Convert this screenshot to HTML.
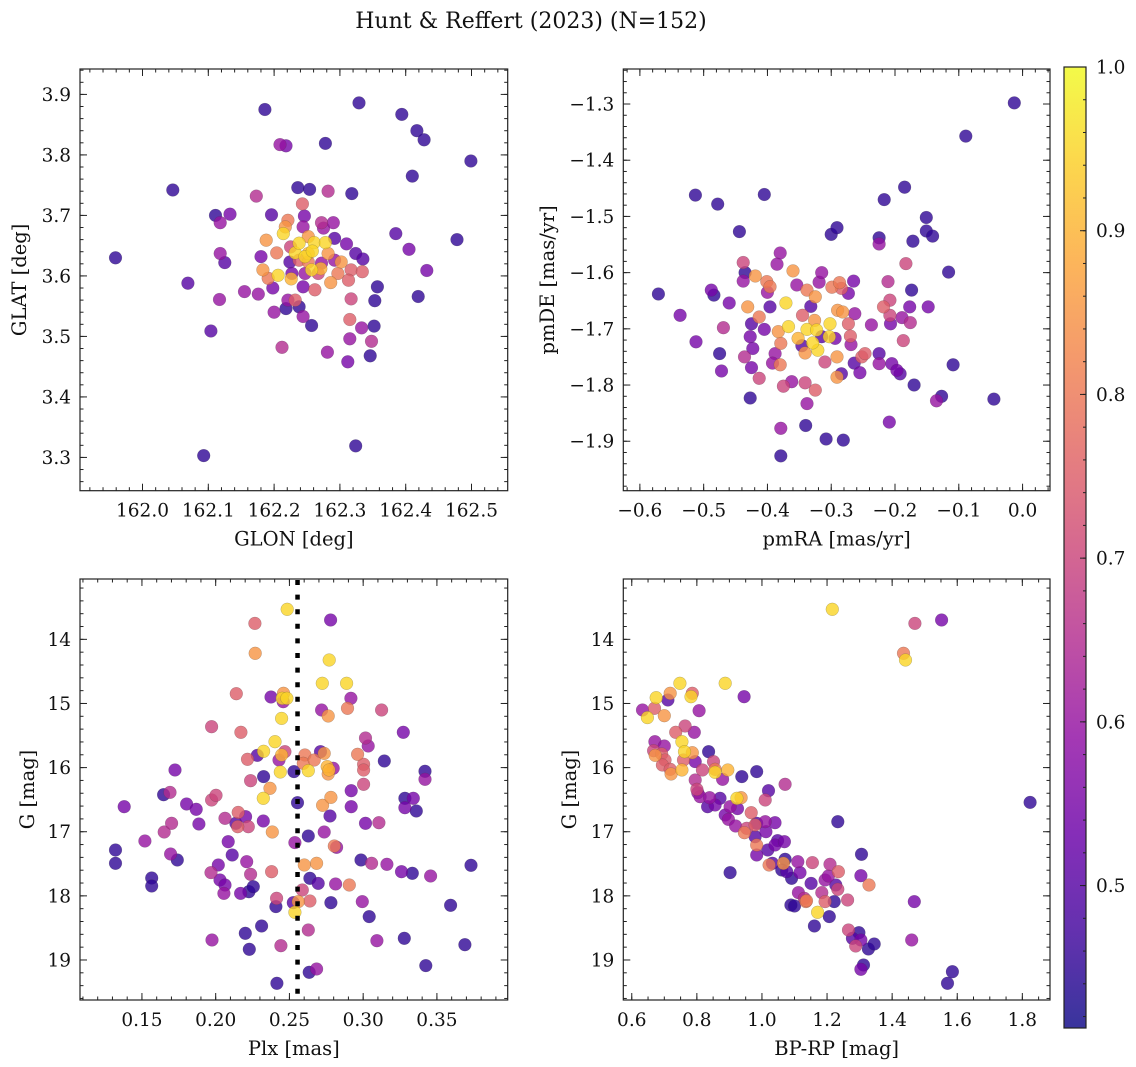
<!DOCTYPE html>
<html><head><meta charset="utf-8">
<style>
html,body{margin:0;padding:0;background:#fff;}
svg{display:block;font-family:"DejaVu Serif","Liberation Serif",serif;}
</style></head>
<body>
<svg id="fig" width="1136" height="1067" viewBox="0 0 1136 1067" xmlns="http://www.w3.org/2000/svg">
<text x="531" y="28" font-size="22" text-anchor="middle" fill="#111">Hunt &amp; Reffert (2023) (N=152)</text>
</svg>
<script>
// ---- Panel 1: GLON / GLAT ----
const p1Lon=[161.959,162.046,162.069,162.093,162.104,162.111,162.118,162.118,162.125,162.117,162.133,162.155,162.173,162.176,162.180,162.186,162.196,162.198,162.200,162.188,162.209,162.218,162.212,162.218,162.214,162.206,162.221,162.217,162.204,162.183,162.191,162.226,162.224,162.221,162.232,162.236,162.243,162.246,162.244,162.232,162.238,162.252,162.247,162.254,162.257,162.261,162.258,162.262,162.244,162.244,162.257,162.238,162.272,162.275,162.278,162.278,162.282,162.290,162.292,162.271,162.282,162.292,162.297,162.286,162.302,162.310,162.318,162.324,162.335,162.317,162.313,162.334,162.317,162.315,162.315,162.312,162.324,162.329,162.333,162.348,162.352,162.353,162.357,162.346,162.281,162.385,162.394,162.405,162.410,162.417,162.428,162.419,162.432,162.478,162.499,162.252,162.225,162.267,162.252,162.238,162.227,162.247,162.272];
const p1Lat=[3.630,3.742,3.588,3.303,3.509,3.700,3.688,3.637,3.622,3.561,3.702,3.574,3.732,3.570,3.632,3.875,3.701,3.580,3.540,3.659,3.817,3.815,3.482,3.546,3.670,3.601,3.692,3.681,3.638,3.610,3.596,3.595,3.623,3.560,3.560,3.746,3.719,3.699,3.681,3.638,3.654,3.665,3.632,3.743,3.610,3.655,3.641,3.577,3.582,3.533,3.518,3.549,3.688,3.679,3.819,3.655,3.740,3.688,3.662,3.612,3.637,3.626,3.604,3.589,3.623,3.653,3.736,3.637,3.628,3.610,3.593,3.607,3.562,3.528,3.496,3.458,3.319,3.886,3.514,3.492,3.517,3.559,3.582,3.468,3.474,3.670,3.867,3.644,3.765,3.840,3.825,3.566,3.609,3.660,3.790,3.637,3.648,3.604,3.623,3.626,3.604,3.604,3.621];
const p1Prob=[.45,.45,.5,.45,.5,.45,.6,.6,.5,.6,.55,.6,.65,.6,.55,.45,.5,.55,.6,.85,.6,.55,.65,.45,.95,.95,.8,.85,.8,.85,.8,.9,.5,.6,.75,.45,.75,.55,.6,.95,.95,.85,.95,.45,.95,.95,.95,.75,.55,.6,.45,.45,.65,.6,.45,.95,.65,.6,.5,.9,.85,.6,.8,.85,.85,.55,.45,.5,.5,.75,.75,.75,.7,.75,.6,.55,.45,.45,.6,.65,.45,.45,.45,.45,.6,.5,.45,.55,.45,.45,.45,.45,.55,.45,.45,.9,.7,.7,.8,.75,.55,.6,.6];
const p1XTicks=[162.0,162.1,162.2,162.3,162.4,162.5];
const p1XLabels=["162.0","162.1","162.2","162.3","162.4","162.5"];
const p1YTicks=[3.3,3.4,3.5,3.6,3.7,3.8,3.9];
const p1YLabels=["3.3","3.4","3.5","3.6","3.7","3.8","3.9"];

// ---- Panel 2: pmRA / pmDE ----
const p2PmRA=[-0.571,-0.537,-0.512,-0.513,-0.478,-0.488,-0.484,-0.460,-0.469,-0.475,-0.472,-0.444,-0.438,-0.435,-0.438,-0.431,-0.425,-0.427,-0.423,-0.436,-0.425,-0.413,-0.427,-0.419,-0.413,-0.405,-0.401,-0.396,-0.400,-0.396,-0.405,-0.388,-0.392,-0.383,-0.380,-0.379,-0.371,-0.380,-0.385,-0.375,-0.379,-0.379,-0.367,-0.362,-0.360,-0.354,-0.352,-0.346,-0.345,-0.341,-0.341,-0.338,-0.338,-0.332,-0.338,-0.340,-0.326,-0.325,-0.323,-0.321,-0.329,-0.325,-0.319,-0.315,-0.315,-0.310,-0.302,-0.303,-0.300,-0.291,-0.299,-0.291,-0.294,-0.290,-0.287,-0.284,-0.282,-0.284,-0.291,-0.281,-0.308,-0.273,-0.273,-0.270,-0.269,-0.265,-0.264,-0.263,-0.255,-0.252,-0.247,-0.237,-0.225,-0.225,-0.225,-0.225,-0.218,-0.217,-0.211,-0.208,-0.208,-0.207,-0.205,-0.197,-0.192,-0.189,-0.187,-0.183,-0.185,-0.177,-0.176,-0.174,-0.172,-0.170,-0.151,-0.151,-0.148,-0.141,-0.135,-0.127,-0.116,-0.109,-0.209,-0.089,-0.045,-0.013];
const p2PmDE=[-1.638,-1.676,-1.723,-1.462,-1.478,-1.631,-1.640,-1.654,-1.698,-1.744,-1.775,-1.527,-1.582,-1.600,-1.615,-1.661,-1.691,-1.714,-1.735,-1.750,-1.769,-1.788,-1.823,-1.606,-1.679,-1.461,-1.616,-1.625,-1.635,-1.661,-1.701,-1.744,-1.761,-1.705,-1.764,-1.726,-1.654,-1.565,-1.585,-1.802,-1.877,-1.926,-1.696,-1.794,-1.597,-1.622,-1.717,-1.730,-1.676,-1.796,-1.743,-1.701,-1.631,-1.660,-1.833,-1.872,-1.685,-1.643,-1.702,-1.738,-1.725,-1.809,-1.617,-1.600,-1.714,-1.759,-1.691,-1.714,-1.532,-1.520,-1.626,-1.750,-1.717,-1.667,-1.618,-1.628,-1.670,-1.780,-1.786,-1.898,-1.896,-1.637,-1.691,-1.713,-1.728,-1.615,-1.761,-1.673,-1.778,-1.750,-1.744,-1.693,-1.538,-1.549,-1.744,-1.762,-1.661,-1.470,-1.616,-1.649,-1.676,-1.691,-1.762,-1.774,-1.780,-1.680,-1.721,-1.584,-1.448,-1.661,-1.689,-1.631,-1.544,-1.800,-1.502,-1.526,-1.661,-1.535,-1.828,-1.820,-1.599,-1.764,-1.866,-1.357,-1.825,-1.298];
const p2Prob=[.45,.55,.55,.45,.45,.55,.45,.55,.65,.45,.55,.45,.7,.45,.6,.85,.5,.55,.55,.65,.55,.7,.45,.85,.8,.45,.8,.8,.6,.5,.55,.6,.6,.85,.8,.8,.95,.6,.6,.7,.6,.45,.95,.6,.85,.6,.9,.5,.75,.7,.85,.95,.8,.5,.6,.45,.85,.85,.95,.95,.95,.75,.6,.6,.5,.7,.95,.95,.45,.45,.8,.85,.55,.85,.8,.75,.85,.5,.85,.45,.45,.55,.75,.75,.6,.55,.5,.6,.55,.75,.75,.6,.45,.6,.5,.6,.75,.45,.65,.7,.7,.55,.55,.55,.5,.6,.7,.7,.45,.55,.65,.45,.45,.45,.45,.45,.55,.45,.6,.45,.45,.45,.55,.45,.45,.45];
const p2XTicks=[-0.6,-0.5,-0.4,-0.3,-0.2,-0.1,0.0];
const p2XLabels=["−0.6","−0.5","−0.4","−0.3","−0.2","−0.1","0.0"];
const p2YTicks=[-1.9,-1.8,-1.7,-1.6,-1.5,-1.4,-1.3];
const p2YLabels=["−1.9","−1.8","−1.7","−1.6","−1.5","−1.4","−1.3"];

// ---- Panel 3: Plx / G ----
const p3Plx=[.1321,.1321,.138,.152,.1566,.1566,.1647,.169,.1651,.1701,.1694,.174,.1724,.1803,.1868,.1886,.1972,.1972,.2002,.1968,.2018,.2029,.2063,.2056,.1975,.2063,.2085,.2112,.2137,.2149,.2153,.214,.2171,.2169,.2203,.221,.2216,.2221,.2237,.2237,.2225,.2255,.2201,.2228,.2266,.2268,.2282,.2311,.2323,.2325,.2325,.2323,.2368,.2384,.2379,.2375,.2402,.2408,.2413,.2415,.2429,.2438,.2447,.2447,.246,.2451,.2458,.2469,.2483,.2485,.2442,.2531,.2537,.2555,.2526,.2537,.256,.2587,.2601,.2605,.2594,.2628,.2628,.2628,.2639,.2639,.2634,.2684,.2668,.2684,.2695,.2711,.2723,.2718,.2725,.2736,.2736,.277,.2763,.2756,.2763,.2768,.2775,.2781,.2779,.2781,.2797,.2804,.282,.2813,.2888,.2894,.2906,.2917,.2919,.2919,.2962,.2985,.2994,.3003,.3003,.3003,.3016,.3034,.3016,.3041,.3057,.3093,.3107,.3125,.3143,.3161,.326,.3272,.3283,.3283,.3279,.3333,.334,.336,.3419,.3419,.3457,.3425,.3593,.369,.3731];
const p3G=[17.285,17.493,16.609,17.145,17.721,17.846,16.422,16.386,17.004,16.869,17.347,17.441,16.037,16.568,16.651,16.879,15.362,16.505,16.432,17.638,17.519,17.753,17.831,17.961,18.688,16.791,17.155,17.363,16.869,16.921,16.698,14.847,15.450,17.961,16.765,17.467,15.871,16.921,16.204,17.664,17.935,17.857,18.584,18.834,13.751,14.218,15.809,18.470,16.833,15.746,16.141,16.479,16.323,17.004,17.623,14.899,15.596,18.168,18.038,19.364,15.882,16.069,15.232,15.804,14.842,14.920,14.972,15.752,14.920,13.532,18.777,16.063,17.170,16.547,18.106,18.257,18.090,17.909,17.519,15.804,15.933,16.048,17.067,18.532,17.727,18.080,19.192,19.140,15.882,17.493,17.805,15.752,14.686,15.102,16.588,15.778,17.004,14.322,15.195,15.985,16.100,16.037,16.755,16.464,13.699,18.106,16.011,17.222,17.243,17.815,14.686,15.076,17.831,14.920,16.360,16.609,15.793,17.441,18.090,15.949,16.037,16.261,15.538,15.663,16.869,18.324,17.493,18.699,16.859,15.102,15.897,17.508,17.623,15.450,16.479,16.625,18.662,17.649,16.479,16.677,16.058,16.183,17.690,19.088,18.148,18.761,17.524];
const p3Prob=[.45,.45,.55,.6,.45,.45,.45,.65,.65,.65,.6,.45,.55,.55,.55,.55,.7,.7,.7,.65,.55,.55,.55,.6,.6,.65,.55,.5,.5,.75,.75,.75,.75,.55,.55,.6,.75,.7,.7,.65,.45,.45,.45,.45,.75,.85,.5,.45,.55,.95,.45,.95,.85,.85,.75,.55,.95,.45,.7,.45,.6,.95,.95,.9,.85,.95,.6,.7,.95,.95,.65,.45,.6,.45,.5,.95,.85,.7,.85,.8,.8,.95,.45,.65,.45,.75,.45,.6,.8,.85,.5,.5,.95,.6,.85,.85,.6,.95,.85,.9,.85,.9,.5,.85,.55,.45,.6,.8,.6,.6,.95,.8,.8,.6,.55,.55,.8,.45,.6,.75,.75,.7,.65,.6,.55,.45,.65,.6,.65,.7,.45,.6,.55,.55,.45,.55,.45,.45,.55,.45,.45,.6,.6,.45,.45,.45,.45];
const p3PlxMarker=[0.2555];
const p3XTicks=[0.15,0.20,0.25,0.30,0.35];
const p3XLabels=["0.15","0.20","0.25","0.30","0.35"];
const gYTicks=[14,15,16,17,18,19];
const gYLabels=["14","15","16","17","18","19"];

// ---- Panel 4: BP-RP / G ----
const p4BpRp=[.633,.648,.670,.675,.700,.711,.718,.748,.782,.786,.807,.887,.945,1.216,1.470,1.552,1.435,1.441,.671,.700,.735,.764,.792,.667,.672,.692,.702,.694,.718,.721,.754,.762,.759,.754,.786,.795,.817,.795,.800,.803,.836,.851,.856,.856,.895,.879,.938,.984,.810,.839,.833,.856,.871,.887,.902,.923,.936,.925,.897,.919,.946,.953,.967,.979,.984,1.010,1.020,1.071,1.010,1.040,1.012,.979,.984,.984,1.018,1.040,1.048,1.069,1.022,1.032,1.066,1.071,1.061,1.076,1.091,1.110,1.117,1.155,1.151,1.112,1.130,1.135,1.137,1.089,1.100,1.171,1.161,1.207,1.222,1.194,1.184,1.194,1.209,1.204,1.235,1.227,1.233,1.263,1.233,1.306,1.304,1.329,1.266,1.278,1.298,1.304,1.288,1.327,1.345,1.312,1.304,.902,1.468,1.460,1.585,1.570,1.824];
const p4G=[15.102,15.221,15.076,14.910,15.190,14.946,14.842,14.686,14.894,14.842,15.112,14.686,14.894,13.532,13.751,13.699,14.218,14.322,15.596,15.663,15.450,15.351,15.450,15.736,15.809,15.788,15.882,15.959,16.027,16.100,15.596,15.752,15.882,16.037,15.767,15.907,16.037,16.193,16.339,16.391,15.752,15.907,16.027,16.074,16.037,16.183,16.141,16.063,16.453,16.469,16.609,16.583,16.479,16.739,16.609,16.479,16.469,16.640,16.807,16.911,17.015,16.947,16.703,16.895,16.869,16.505,16.360,16.261,16.843,16.859,16.999,17.077,17.207,17.363,17.285,17.207,17.139,17.155,17.519,17.493,17.493,17.430,17.597,17.623,17.727,17.467,17.638,17.482,17.805,17.950,18.038,18.090,18.075,18.142,18.158,18.257,18.470,18.324,18.090,18.090,17.950,17.753,17.508,17.690,17.623,17.831,17.898,18.064,16.843,17.352,17.685,17.831,18.532,18.662,18.574,18.688,18.782,18.828,18.751,19.078,19.146,17.638,18.090,18.688,19.182,19.364,16.542];
const p4Prob=[.6,.95,.75,.95,.85,.5,.85,.95,.95,.75,.6,.95,.55,.95,.7,.55,.8,.95,.6,.6,.75,.7,.6,.7,.85,.75,.75,.75,.75,.85,.95,.95,.75,.9,.85,.55,.7,.65,.7,.6,.45,.7,.8,.95,.9,.6,.45,.45,.6,.6,.5,.55,.5,.55,.6,.95,.85,.55,.6,.6,.8,.7,.75,.75,.5,.7,.5,.65,.6,.55,.55,.5,.8,.55,.5,.55,.5,.55,.8,.5,.85,.45,.45,.5,.45,.6,.55,.7,.5,.6,.65,.8,.8,.45,.45,.95,.45,.45,.45,.75,.65,.6,.65,.6,.75,.5,.7,.7,.45,.45,.55,.8,.7,.5,.45,.55,.7,.45,.45,.45,.55,.45,.55,.6,.45,.45,.45];
const p4XTicks=[0.6,0.8,1.0,1.2,1.4,1.6,1.8];
const p4XLabels=["0.6","0.8","1.0","1.2","1.4","1.6","1.8"];

// ---- Colorbar ----
const cbTicks=[0.5,0.6,0.7,0.8,0.9,1.0];
const cbLabels=["0.5","0.6","0.7","0.8","0.9","1.0"];
const cbRange=[0.413,1.0];

const NS="http://www.w3.org/2000/svg";
const svg=document.getElementById('fig');
const plasma=[[13,8,135],[65,4,157],[106,0,168],[143,13,164],[177,42,144],[204,71,120],[225,100,98],[242,132,75],[252,166,54],[252,206,37],[240,249,33]];
function cmap(t){t=Math.max(0,Math.min(1,t));const f=t*10;const i=Math.min(9,Math.floor(f));const u=f-i;const a=plasma[i],b=plasma[i+1];return 'rgb('+Math.round(a[0]+(b[0]-a[0])*u)+','+Math.round(a[1]+(b[1]-a[1])*u)+','+Math.round(a[2]+(b[2]-a[2])*u)+')';}
function probColor(p){return cmap((p-cbRange[0])/(cbRange[1]-cbRange[0]));}
function mk(tag,attrs,parent){const e=document.createElementNS(NS,tag);for(const k in attrs)e.setAttribute(k,attrs[k]);(parent||svg).appendChild(e);return e;}

function panel(cfg){
  const g=mk('g',{});
  
  
  const sx=v=>cfg.x0+(v-cfg.xd[0])/(cfg.xd[1]-cfg.xd[0])*(cfg.x1-cfg.x0);
  const sy=v=>cfg.inv? cfg.y0+(v-cfg.yd[0])/(cfg.yd[1]-cfg.yd[0])*(cfg.y1-cfg.y0) : cfg.y1-(v-cfg.yd[0])/(cfg.yd[1]-cfg.yd[0])*(cfg.y1-cfg.y0);
  const idx=cfg.xs.map((_,i)=>i).sort((a,b)=>cfg.ps[a]-cfg.ps[b]);
  const pg=mk('g',{},g);
  
  
  idx.forEach(i=>{
    const c=mk('circle',{cx:sx(cfg.xs[i]).toFixed(1),cy:sy(cfg.ys[i]).toFixed(1),r:6.4,fill:probColor(cfg.ps[i]),'fill-opacity':0.8,stroke:'rgba(60,60,60,0.35)','stroke-width':0.5},pg);
    
    
  });
  if(cfg.vline){cfg.vline.forEach(v=>{
    const l=mk('line',{x1:sx(v),x2:sx(v),y1:cfg.y0+1,y2:cfg.y1,stroke:'#000','stroke-width':4.5,'stroke-dasharray':'5 9.6'},g);
    
    
  });}
  const fr=mk('rect',{x:cfg.x0,y:cfg.y0,width:cfg.x1-cfg.x0,height:cfg.y1-cfg.y0,fill:'none',stroke:'#222','stroke-width':1.2},g);
  
  
  const tk=mk('g',{stroke:'#222','stroke-width':1},g);
  
  
  function line(x1,y1,x2,y2){mk('line',{x1,y1,x2,y2},tk);}
  const xm0=Math.ceil(cfg.xd[0]/cfg.xminor-1e-6);
  for(let k=xm0;k*cfg.xminor<=cfg.xd[1]+1e-9;k++){const x=sx(k*cfg.xminor);line(x,cfg.y1,x,cfg.y1-3.5);line(x,cfg.y0,x,cfg.y0+3.5);}
  const ym0=Math.ceil(cfg.yd[0]/cfg.yminor-1e-6);
  for(let k=ym0;k*cfg.yminor<=cfg.yd[1]+1e-9;k++){const y=sy(k*cfg.yminor);line(cfg.x0,y,cfg.x0+3.5,y);line(cfg.x1,y,cfg.x1-3.5,y);}
  cfg.xt.forEach((v,i)=>{const x=sx(v);line(x,cfg.y1,x,cfg.y1-7);line(x,cfg.y0,x,cfg.y0+7);
    const t=mk('text',{x:x,y:cfg.y1+26,'font-size':18.5,'text-anchor':'middle',fill:'#111'},g);t.textContent=cfg.xl[i];
    
    });
  cfg.yt.forEach((v,i)=>{const y=sy(v);line(cfg.x0,y,cfg.x0+7,y);line(cfg.x1,y,cfg.x1-7,y);
    const t=mk('text',{x:cfg.x0-9,y:y+6.5,'font-size':18.5,'text-anchor':'end',fill:'#111'},g);t.textContent=cfg.yl[i];
    
    });
  const xt=mk('text',{x:(cfg.x0+cfg.x1)/2,y:cfg.y1+55,'font-size':19.5,'text-anchor':'middle',fill:'#111'},g);xt.textContent=cfg.xlab;
  
  
  const yc=(cfg.y0+cfg.y1)/2;
  const yt=mk('text',{x:cfg.ylx,y:yc,'font-size':19.5,'text-anchor':'middle',fill:'#111',transform:'rotate(-90 '+cfg.ylx+' '+yc+')'},g);yt.textContent=cfg.ylab;
  
  
}

panel({name:'glon-glat-panel',x0:80,x1:507.7,y0:69,y1:490.7,xd:[161.905,162.555],yd:[3.245,3.942],inv:false,xs:p1Lon,ys:p1Lat,ps:p1Prob,xt:p1XTicks,xl:p1XLabels,yt:p1YTicks,yl:p1YLabels,xminor:0.02,yminor:0.02,xlab:'GLON [deg]',ylab:'GLAT [deg]',ylx:26});
panel({name:'proper-motion-panel',x0:623.3,x1:1050,y0:69,y1:490.7,xd:[-0.626,0.043],yd:[-1.988,-1.2377],inv:false,xs:p2PmRA,ys:p2PmDE,ps:p2Prob,xt:p2XTicks,xl:p2XLabels,yt:p2YTicks,yl:p2YLabels,xminor:0.02,yminor:0.02,xlab:'pmRA [mas/yr]',ylab:'pmDE [mas/yr]',ylx:554});
panel({name:'parallax-panel',x0:80,x1:507.7,y0:579,y1:1000,xd:[0.108,0.398],yd:[13.059,19.624],inv:true,xs:p3Plx,ys:p3G,ps:p3Prob,xt:p3XTicks,xl:p3XLabels,yt:gYTicks,yl:gYLabels,xminor:0.01,yminor:0.2,xlab:'Plx [mas]',ylab:'G [mag]',ylx:34,vline:p3PlxMarker});
panel({name:'cmd-panel',x0:623.3,x1:1050,y0:579,y1:1000,xd:[0.574,1.885],yd:[13.059,19.624],inv:true,xs:p4BpRp,ys:p4G,ps:p4Prob,xt:p4XTicks,xl:p4XLabels,yt:gYTicks,yl:gYLabels,xminor:0.05,yminor:0.2,xlab:'BP-RP [mag]',ylab:'G [mag]',ylx:576});

(function(){
  const x0=1064,x1=1086,y0=67,y1=1028;
  const defs=mk('defs',{});
  const lg=mk('linearGradient',{id:'cbg',x1:0,y1:1,x2:0,y2:0},defs);
  for(let i=0;i<=20;i++){mk('stop',{offset:(i/20),'stop-color':cmap(i/20),'stop-opacity':0.82},lg);}
  const cg=mk('g',{});
  
  
  mk('rect',{x:x0,y:y0,width:x1-x0,height:y1-y0,fill:'url(#cbg)',stroke:'#222','stroke-width':1.2},cg);
  const sy=v=>y1-(v-cbRange[0])/(cbRange[1]-cbRange[0])*(y1-y0);
  for(let k=Math.ceil(cbRange[0]/0.02);k*0.02<=cbRange[1]+1e-9;k++){const y=sy(k*0.02);mk('line',{x1:x1,x2:x1-3,y1:y,y2:y,stroke:'#222','stroke-width':1},cg);}
  cbTicks.forEach((v,i)=>{const y=sy(v);mk('line',{x1:x1,x2:x1-6,y1:y,y2:y,stroke:'#222','stroke-width':1},cg);
    const t=mk('text',{x:x1+10,y:y+6.5,'font-size':18.5,fill:'#111'},cg);t.textContent=cbLabels[i];
    
    });
})();
</script>
</body></html>
